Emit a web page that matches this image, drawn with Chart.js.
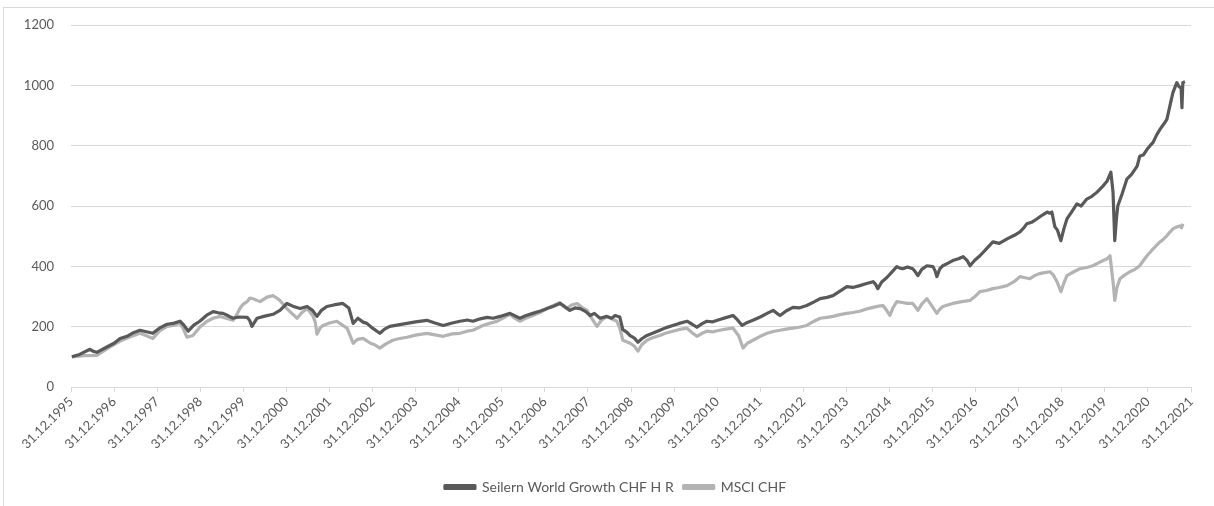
<!DOCTYPE html>
<html>
<head>
<meta charset="utf-8">
<script src="https://cdn.jsdelivr.net/npm/chart.js@4"></script>
<style>
  body { margin:0; background:#fff; }
  #frame { position:absolute; left:3px; top:7px; width:1230px; height:520px; border:1px solid #d9d9d9; }
  #wrap { position:absolute; left:0; top:0; width:1214px; height:506px; }
</style>
</head>
<body>
<div id="frame"></div>
<div id="wrap"><canvas id="myChart" width="1214" height="506"></canvas></div>
<script>
// x = years after 31.12.1995
var tickLabels=["31.12.1995","31.12.1996","31.12.1997","31.12.1998","31.12.1999","31.12.2000","31.12.2001","31.12.2002","31.12.2003","31.12.2004","31.12.2005","31.12.2006","31.12.2007","31.12.2008","31.12.2009","31.12.2010","31.12.2011","31.12.2012","31.12.2013","31.12.2014","31.12.2015","31.12.2016","31.12.2017","31.12.2018","31.12.2019","31.12.2020","31.12.2021"]

var seilernT=[0.02,0.2,0.44,0.52,0.60,0.8,1.0,1.14,1.3,1.45,1.60,1.75,1.90,2.05,2.23,2.4,2.53,2.62,2.72,2.85,2.99,3.15,3.30,3.42,3.53,3.65,3.76,3.9,4.09,4.15,4.20,4.32,4.5,4.69,4.85,4.95,5.01,5.15,5.32,5.48,5.6,5.71,5.82,5.94,6.1,6.31,6.45,6.55,6.66,6.78,6.87,7.0,7.17,7.28,7.40,7.6,7.80,8.0,8.26,8.45,8.64,8.85,9.03,9.2,9.33,9.5,9.66,9.8,9.96,10.19,10.42,10.55,10.72,10.9,11.05,11.2,11.35,11.45,11.58,11.7,11.82,11.95,12.05,12.15,12.28,12.44,12.55,12.63,12.74,12.81,12.9,12.98,13.08,13.16,13.25,13.37,13.5,13.67,13.8,13.97,14.1,14.30,14.42,14.53,14.65,14.76,14.9,15.06,15.2,15.37,15.45,15.58,15.7,15.83,16.0,16.16,16.30,16.38,16.46,16.6,16.76,16.9,17.08,17.25,17.39,17.55,17.69,17.85,18.01,18.15,18.31,18.45,18.62,18.68,18.73,18.82,18.94,19.05,19.17,19.24,19.31,19.42,19.54,19.6,19.66,19.75,19.87,20.01,20.06,20.10,20.17,20.24,20.35,20.47,20.6,20.71,20.8,20.87,20.98,21.10,21.25,21.40,21.55,21.73,21.9,22.03,22.12,22.19,22.3,22.42,22.55,22.66,22.72,22.77,22.84,22.9,22.98,23.05,23.12,23.25,23.35,23.45,23.58,23.7,23.82,23.95,24.05,24.14,24.19,24.23,24.27,24.30,24.4,24.51,24.62,24.75,24.81,24.9,24.98,25.05,25.12,25.2,25.28,25.36,25.44,25.5,25.58,25.67,25.72,25.77,25.79,25.81,25.86]
var seilernV=[100,108,125,118,115,130,145,161,168,180,188,183,178,195,208,212,218,205,185,205,218,238,250,246,244,236,228,232,231,220,201,228,235,241,254,268,277,268,260,267,255,234,255,267,272,277,262,211,228,215,211,195,178,192,201,206,211,216,221,212,204,212,218,222,218,226,231,228,234,244,228,236,244,252,260,268,277,268,254,262,260,250,237,244,228,234,228,237,232,190,182,170,162,148,160,171,178,188,196,204,210,218,208,198,210,218,216,224,230,237,226,204,214,221,232,244,254,245,237,252,264,262,270,282,293,297,303,318,333,330,336,342,349,340,326,348,363,380,399,394,392,398,392,382,369,390,402,399,385,366,392,402,410,419,425,432,420,402,420,435,458,481,476,491,503,514,528,541,546,557,570,580,576,580,531,520,485,525,557,585,607,600,623,632,646,665,682,712,646,485,560,600,640,689,705,732,765,770,788,800,811,835,854,870,887,925,976,1009,996,990,926,1009,1012]

var msciT=[0.02,0.3,0.60,0.85,1.14,1.35,1.60,1.75,1.90,2.05,2.23,2.4,2.53,2.6,2.69,2.83,3.0,3.16,3.3,3.46,3.6,3.76,3.85,3.92,4.0,4.09,4.15,4.22,4.3,4.39,4.55,4.69,4.78,4.85,4.92,5.01,5.12,5.25,5.35,5.48,5.55,5.62,5.67,5.71,5.78,5.85,6.0,6.17,6.3,6.41,6.48,6.55,6.65,6.78,6.95,7.05,7.17,7.3,7.47,7.6,7.80,8.0,8.26,8.45,8.64,8.85,9.03,9.2,9.33,9.45,9.56,9.7,9.89,10.05,10.19,10.3,10.42,10.55,10.72,10.9,11.05,11.2,11.35,11.43,11.51,11.62,11.75,11.85,11.98,12.1,12.21,12.32,12.44,12.55,12.67,12.74,12.81,12.9,12.98,13.08,13.16,13.25,13.37,13.5,13.67,13.8,13.97,14.1,14.30,14.42,14.53,14.65,14.76,14.9,15.06,15.2,15.37,15.5,15.60,15.7,15.83,16.0,16.16,16.3,16.46,16.6,16.76,16.9,17.08,17.25,17.39,17.55,17.69,17.85,18.01,18.15,18.31,18.45,18.62,18.75,18.85,18.93,19.01,19.08,19.17,19.3,19.41,19.54,19.6,19.66,19.75,19.87,19.98,20.10,20.17,20.24,20.35,20.47,20.65,20.87,21.0,21.10,21.25,21.40,21.55,21.73,21.9,22.03,22.15,22.26,22.38,22.49,22.6,22.73,22.8,22.89,22.98,23.05,23.12,23.28,23.42,23.58,23.72,23.9,24.05,24.12,24.19,24.23,24.28,24.35,24.45,24.58,24.7,24.81,24.9,24.98,25.12,25.28,25.36,25.44,25.5,25.58,25.66,25.74,25.78,25.81]
var msciV=[100,104,105,128,152,165,178,170,161,185,201,205,211,195,165,171,200,218,228,234,228,221,240,260,275,283,295,293,288,283,298,303,294,287,275,260,245,228,245,260,248,234,215,175,195,204,212,218,205,195,170,145,158,161,145,140,129,142,155,160,165,172,178,173,168,176,178,185,188,196,204,210,218,230,241,228,218,228,237,248,260,270,280,268,260,272,277,265,254,225,201,222,234,226,218,195,155,150,145,135,119,140,155,163,171,178,185,190,195,180,168,178,185,183,188,192,195,170,129,145,155,168,178,184,188,192,195,198,204,218,228,231,234,240,244,247,251,258,264,268,270,255,237,262,283,280,277,277,266,254,275,293,270,244,258,267,272,277,282,287,302,316,320,326,330,336,350,366,362,359,370,376,379,382,372,349,316,345,369,382,392,396,402,415,425,435,349,287,330,359,370,382,390,402,420,435,458,481,490,501,512,524,530,534,528,541]

function pts(t,v){
    var out=[]
    for(var i=0;i<t.length;i++){ out.push({x:t[i],y:v[i]}) }
    return out
}

// legend sits a bit right of centre in the original
var legendShift={
    id:'legendShift',
    afterLayout:function(chart){
        chart.legend.left+=20
        chart.legend.right+=20
    }
}

var ctx=document.getElementById("myChart").getContext('2d')
var chart=new Chart(ctx,{
    type:'line',
    data:{
        datasets:[
            {
                label:"Seilern World Growth CHF H R",
                data:pts(seilernT,seilernV),
                borderColor:"#595959",
                backgroundColor:"#595959",
                borderWidth:3.2
            },
            {
                label:"MSCI CHF",
                data:pts(msciT,msciV),
                borderColor:"#b3b3b3",
                backgroundColor:"#b3b3b3",
                borderWidth:3.2
            }
        ]
    },
    options:{
        responsive:false,
        animation:false,
        layout:{padding:{left:0,right:23,top:25,bottom:2}},
        elements:{point:{radius:0},line:{tension:0,borderJoinStyle:'round'}},
        plugins:{
            tooltip:{enabled:false},
            legend:{
                position:'bottom',
                labels:{
                    boxWidth:30,
                    boxHeight:3,
                    padding:10,
                    color:"#595959",
                    font:{family:"Lato",size:14}
                }
            }
        },
        scales:{
            x:{
                type:'linear',
                min:0,
                max:26,
                ticks:{
                    stepSize:1,
                    autoSkip:false,
                    minRotation:45,
                    maxRotation:45,
                    padding:2,
                    color:"#595959",
                    font:{family:"Lato",size:13},
                    callback:function(value){ return tickLabels[value] }
                },
                grid:{drawOnChartArea:false,drawTicks:true,tickLength:5,color:"#d9d9d9"},
                border:{color:"#d9d9d9"},
                afterFit:function(s){ s.height=83 }
            },
            y:{
                min:0,
                max:1200,
                ticks:{stepSize:200,padding:17,color:"#595959",font:{family:"Lato",size:13},
                    callback:function(value){ return String(value) }},
                grid:{color:"#d9d9d9",drawTicks:false},
                border:{display:false},
                afterFit:function(s){ s.width=71 }
            }
        }
    },
    plugins:[legendShift]
})
</script>
</body>
</html>
